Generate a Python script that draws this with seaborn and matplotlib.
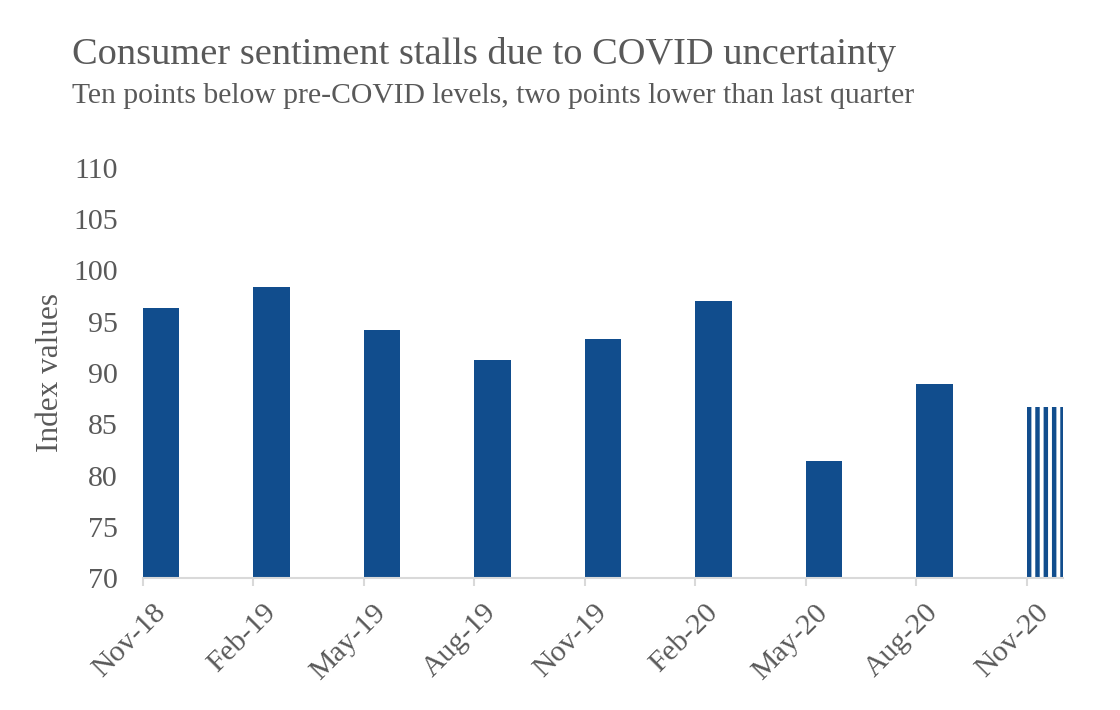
import matplotlib
matplotlib.use("Agg")
import matplotlib.pyplot as plt
import seaborn as sns
import pandas as pd
import numpy as np

months = ["Nov-18", "Feb-19", "May-19", "Aug-19", "Nov-19", "Feb-20", "May-20", "Aug-20", "Nov-20"]
index_values = [96.3, 98.4, 94.2, 91.3, 93.3, 97.0, 81.4, 88.9, 86.7]
yticks = [70, 75, 80, 85, 90, 95, 100, 105, 110]

title = "Consumer sentiment stalls due to COVID uncertainty"
subtitle = "Ten points below pre-COVID levels, two points lower than last quarter"

blue = "#114d8d"
grey_text = "#595959"
bar_w = 0.33

sns.set_theme(style="white")
plt.rcParams["font.family"] = ["Liberation Serif", "DejaVu Serif"]
plt.rcParams["hatch.linewidth"] = 3.2

df = pd.DataFrame({"month": months, "value": index_values})

fig = plt.figure(figsize=(11.2, 7.1), dpi=100)
ax = fig.add_axes([143 / 1120, 132 / 710, 920 / 1120, 410 / 710])

sns.barplot(data=df, x="month", y="value", color=blue, width=bar_w,
            saturation=1, ax=ax, linewidth=0)

# last bar is a forecast -> striped
last = ax.patches[-1]
last.set_facecolor("white")
last.set_edgecolor(blue)
last.set_hatch("||")
last.set_linewidth(0)

ax.set_ylim(70, 110)
ax.set_yticks(yticks)
ax.set_xlim(-bar_w / 2, len(months) - 1 + bar_w / 2)

# labels sit under bar centres, tick marks at bar left edges
pos = np.arange(len(months))
ax.set_xticks(pos)
ax.set_xticklabels(months, rotation=45, ha="right", va="center",
                   rotation_mode="anchor")
ax.set_xticks(pos - bar_w / 2, minor=True)
ax.tick_params(axis="x", which="major", length=0, pad=22, labelsize=21.5,
               labelcolor=grey_text)
ax.tick_params(axis="x", which="minor", length=6, width=1.5, color="#d9d9d9",
               bottom=True)
ax.tick_params(axis="y", length=0, pad=18, labelsize=21.5, labelcolor=grey_text)

sns.despine(ax=ax, left=True)
ax.spines["bottom"].set_color("#d9d9d9")
ax.spines["bottom"].set_linewidth(1.5)

ax.set_xlabel("")
ax.set_ylabel("Index values", fontsize=22.5, color=grey_text)
ax.yaxis.set_label_coords(-0.101, 0.5)
ax.yaxis.label.set_verticalalignment("center")

fig.text(72 / 1120, 1 - 54 / 710, title, fontsize=27.6, color=grey_text,
         ha="left", va="center")
fig.text(72 / 1120, 1 - 96 / 710, subtitle, fontsize=21.3, color=grey_text,
         ha="left", va="center")

fig.savefig("out.png", dpi=100, facecolor="white")
